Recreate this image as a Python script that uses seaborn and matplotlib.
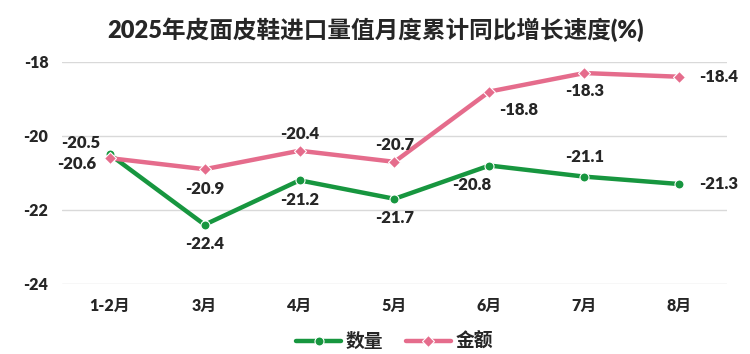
import seaborn as sns
import matplotlib.pyplot as plt
import pandas as pd

months = ["1-2月", "3月", "4月", "5月", "6月", "7月", "8月"]
quantity = [-20.5, -22.4, -21.2, -21.7, -20.8, -21.1, -21.3]
value = [-20.6, -20.9, -20.4, -20.7, -18.8, -18.3, -18.4]

df = pd.DataFrame({"月份": months * 2,
                   "增速": quantity + value,
                   "系列": ["数量"] * 7 + ["金额"] * 7})

sns.set_theme(style="white")
plt.rcParams["font.family"] = ["Lato", "Noto Sans CJK SC", "DejaVu Sans"]
plt.rcParams["font.weight"] = "heavy"
plt.rcParams["axes.unicode_minus"] = False

green = "#17963f"
pink = "#e56c8c"

fig = plt.figure(figsize=(7.5, 3.54), dpi=100)
ax = fig.add_axes([0.083, 0.198, 0.886, 0.627])

sns.lineplot(data=df, x="月份", y="增速", hue="系列", style="系列",
             palette={"数量": green, "金额": pink},
             markers={"数量": "o", "金额": "D"}, dashes=False,
             linewidth=3.2, markersize=6.5, markeredgecolor="white",
             markeredgewidth=0.8, ax=ax, sort=False)

# label offsets (points) for each series
q_off = [(-21, 8), (0, -14), (0, -14), (0, -14), (-13, -14), (0, 14), (28, 0)]
v_off = [(-24, -4), (0, -14), (0, 12), (0, 12), (21, -13), (0, -13), (28, 0)]
for i in range(7):
    ax.annotate(f"{quantity[i]}", (i, quantity[i]), xytext=q_off[i], textcoords="offset points",
                ha="center", va="center", fontsize=12, fontweight="heavy")
    ax.annotate(f"{value[i]}", (i, value[i]), xytext=v_off[i], textcoords="offset points",
                ha="center", va="center", fontsize=12, fontweight="heavy")

ax.set_ylim(-24, -18)
ax.set_yticks([-24, -22, -20, -18])
ax.set_xlim(-0.5, 6.5)
ax.grid(axis="y", color="#d9d9d9", linewidth=1)
for s in ax.spines.values():
    s.set_visible(False)
ax.tick_params(axis="both", length=0, labelsize=11.5, pad=10)
for lab in ax.get_xticklabels() + ax.get_yticklabels():
    lab.set_fontweight("heavy")
ax.set_xlabel("")
ax.set_ylabel("")

fig.suptitle("2025年皮面皮鞋进口量值月度累计同比增长速度(%)", y=0.95,
             fontsize=17, fontweight="heavy")

handles, labels = ax.get_legend_handles_labels()
ax.legend(handles, labels, loc="upper center", bbox_to_anchor=(0.5, -0.14),
          ncol=2, frameon=False, handlelength=2.4, columnspacing=1.2,
          handletextpad=0.25, prop={"weight": "heavy", "size": 13.5})

plt.savefig("out.png")
